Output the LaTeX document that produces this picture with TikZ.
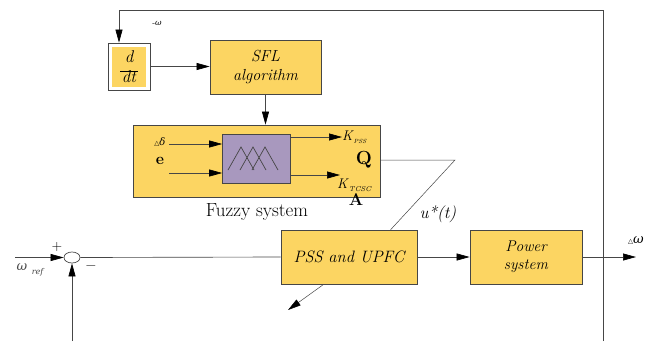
\documentclass[tikz,border=0pt]{standalone}
\usepackage{fontspec}
\newfontfamily\dv{DejaVu Sans}
\newfontfamily\gr{DejaVu Serif}
\usetikzlibrary{arrows.meta,calc,shapes.geometric}
\definecolor{fy}{RGB}{252,213,98}
\definecolor{fp}{RGB}{168,152,190}
\definecolor{ln}{RGB}{70,70,70}
\newcommand{\fs}[1]{\fontsize{#1}{#1}\selectfont}
\newcommand{\tri}{{\dv\fontsize{6.5}{6.5}\selectfont △}}
\begin{document}
\begin{tikzpicture}[x=1pt,y=-1pt,
  blk/.style={draw=ln,line width=0.7pt,fill=fy,inner sep=0pt,align=center,font=\itshape},
  conn/.style={draw=ln,line width=0.65pt},
  arr/.style={conn,-{Triangle[length=13pt,width=7pt,color=black]}},
  lbl/.style={inner sep=0pt}]
\useasboundingbox (0,0) rectangle (665,341);
% d/dt block
\node[blk,fill=white,minimum width=42pt,minimum height=47pt] (ddt) at (129,66.5) {};
\node[fill=fy,minimum width=34pt,minimum height=40pt,inner sep=0pt,align=center,font=\itshape] (ddtin) at (129,67)
  {\fs{17}d\\[-3pt]\rule{18pt}{0.6pt}\\[-1pt]\fs{17}dt};
% SFL
\node[blk,minimum width=111pt,minimum height=54pt,font=\itshape\fontsize{16}{19}\selectfont] (sfl) at (265.5,67) {SFL\\algorithm};
% Fuzzy system
\node[blk,minimum width=247pt,minimum height=72pt] (fz) at (256.5,161) {};
\node[draw=ln,fill=fp,line width=0.7pt,minimum width=68pt,minimum height=49pt,inner sep=0pt] (mf) at (256.5,158.5) {};
\draw[ln,line width=0.7pt] (228,170)--(241,147)--(254,170) (240,170)--(253,147)--(266,170) (252,170)--(265,147)--(278,170);
\coordinate (in1) at (169,144);
\coordinate (in2) at (169,173);
\coordinate (o1) at (342,137);
\coordinate (o2) at (340,175);
\draw[arr] (in1) -- (in1 -| mf.west);
\draw[arr] (in2) -- (in2 -| mf.west);
\draw[arr] (o1 -| mf.east) -- (o1);
\draw[arr] (o2 -| mf.east) -- (o2);
\node[lbl] (ds) at (160,142) {\tri\fs{10}\gr\itshape δ};
\node[lbl] (e) at (160,161) {\fs{16}\bfseries e};
\node[lbl,anchor=west] (kp) at (342,137) {\fs{14}\itshape K\raisebox{-3pt}{\fs{6}\,PSS}};
\node[lbl,anchor=west] (kt) at (337,185) {\fs{14}\itshape K\raisebox{-3pt}{\fs{7}\,TCSC}};
\node[lbl] (q) at (364,160) {\fs{19}\bfseries Q};
\node[lbl] (aa) at (356,200) {\fs{17}\bfseries A};
\node[lbl] (fzl) at (257,212) {\fs{19}Fuzzy system};
% lower row
\node[blk,minimum width=136pt,minimum height=54pt] (pss) at (349,257) {\fs{16.5}PSS and UPFC};
\node[blk,minimum width=112pt,minimum height=54pt,font=\itshape\fontsize{15.5}{18}\selectfont] (pw) at (526,257) {Power\\system};
\node[draw=ln,ellipse,line width=0.7pt,minimum width=16pt,minimum height=11pt,inner sep=0pt,fill=white] (sum) at (72,257.5) {};
% connectors
\coordinate (start) at (15,257.5);
\draw[arr] (start) -- (sum.west);
\draw[conn] (sum.east) -- (pss.west);
\draw[arr] (pss.east) -- (pw.west);
\coordinate (out) at (636,257);
\draw[arr] (pw.east) -- (out);
\coordinate (fbB) at (603,341);
\coordinate (fbT) at (603,10);
\coordinate (fbL) at (119,10);
\draw[arr] (fbB) -- (fbT) -- (fbL) -- (fbL |- ddt.north);
\coordinate (sb) at (72,341);
\draw[arr] (sb) -- (sum.south);
\draw[arr] (ddt.east) -- (ddt.east -| sfl.west);
\draw[arr] (sfl.south) -- (sfl.south |- fz.north);
\coordinate (qr) at (455,160);
\draw[conn,line width=0.5pt] (fz.east |- qr) -- (qr) -- ($(pss.north west)+(110,0)$);
\coordinate (dn) at (288,310);
\draw[arr,line width=0.5pt] ($(pss.south west)+(43,0)$) -- (dn);
% labels
\node[lbl] (plus) at (57,247) {\fs{14}+};
\node[lbl] (minus) at (91,268) {\fs{14}−};
\node[lbl,text=ln] (wref) at (30,270) {\fs{13}\gr\itshape ω\raisebox{-4pt}{\fs{8}\; ref}};
\node[lbl] (wtop) at (157,23) {\fs{8}-\gr\itshape ω};
\node[lbl] (dw) at (636,241) {\tri\fs{13}\gr\itshape ω};
\node[lbl] (ut) at (438,214) {\fs{17}\itshape u*(t)};
\end{tikzpicture}
\end{document}
